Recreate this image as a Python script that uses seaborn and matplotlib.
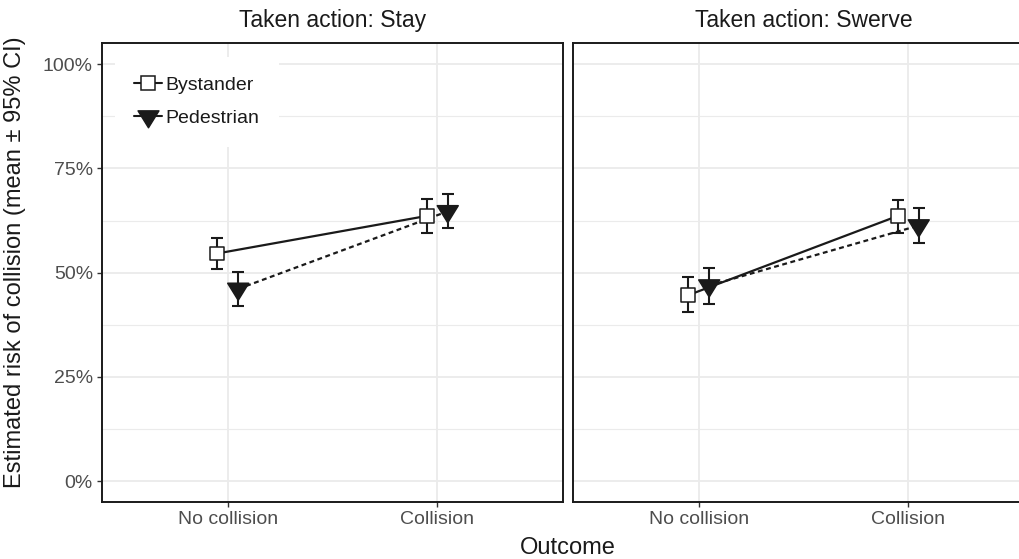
"""
Estimated collision risk by outcome, role and taken action (two facets).
"""
import numpy as np
import pandas as pd
import matplotlib
matplotlib.use("Agg")
import matplotlib.pyplot as plt
import seaborn as sns
from matplotlib.lines import Line2D
from matplotlib.path import Path

outcomes = ["No collision", "Collision"]
actions = ["Stay", "Swerve"]
roles = ["Bystander", "Pedestrian"]

# mean and 95% CI bounds, in percent
stay_bystander_mean = [54.6, 63.6]
stay_bystander_lo = [50.9, 59.4]
stay_bystander_hi = [58.2, 67.6]
stay_pedestrian_mean = [46.1, 64.7]
stay_pedestrian_lo = [42.0, 60.6]
stay_pedestrian_hi = [50.2, 68.9]
swerve_bystander_mean = [44.6, 63.6]
swerve_bystander_lo = [40.6, 59.4]
swerve_bystander_hi = [48.9, 67.5]
swerve_pedestrian_mean = [46.9, 61.3]
swerve_pedestrian_lo = [42.6, 57.1]
swerve_pedestrian_hi = [51.2, 65.5]

y_ticks = [0, 25, 50, 75, 100]
y_tick_labels = ["0%", "25%", "50%", "75%", "100%"]

series = {
    ("Stay", "Bystander"): (stay_bystander_mean, stay_bystander_lo, stay_bystander_hi),
    ("Stay", "Pedestrian"): (stay_pedestrian_mean, stay_pedestrian_lo, stay_pedestrian_hi),
    ("Swerve", "Bystander"): (swerve_bystander_mean, swerve_bystander_lo, swerve_bystander_hi),
    ("Swerve", "Pedestrian"): (swerve_pedestrian_mean, swerve_pedestrian_lo, swerve_pedestrian_hi),
}
dodge = {"Bystander": -0.05, "Pedestrian": 0.05}

rows = []
for (action, role), (means, los, his) in series.items():
    for i, outcome in enumerate(outcomes):
        rows.append({"action": action, "role": role, "outcome": outcome,
                     "x": i + dodge[role], "mean": means[i], "lo": los[i], "hi": his[i]})
df = pd.DataFrame(rows)

sns.set_theme(style="whitegrid")
plt.rcParams["font.family"] = ["Liberation Sans", "DejaVu Sans"]

INK = "#1a1a1a"
GRID = "#ebebeb"
TICK_TXT = "#4d4d4d"

# down triangle with its centroid on the data point (like ggplot shape 25)
tri = Path([(-1, 0.54), (1, 0.54), (0, -1.08), (-1, 0.54)],
           [Path.MOVETO, Path.LINETO, Path.LINETO, Path.CLOSEPOLY])
markers = {"Bystander": "s", "Pedestrian": tri}
fills = {"Bystander": "white", "Pedestrian": INK}
sizes = {"Bystander": 100, "Pedestrian": 266}

fig = plt.figure(figsize=(10.2, 5.59), dpi=100)
W, H = 1020, 559
bottom = 1 - 502 / H
height = 458.7 / H
ax1 = fig.add_axes([102 / W, bottom, 461 / W, height])
ax2 = fig.add_axes([573 / W, bottom, 461 / W, height])

for ax, action in zip([ax1, ax2], actions):
    sub = df[df["action"] == action]
    for role in roles:
        d = sub[sub["role"] == role]
        ax.errorbar(d["x"], d["mean"], yerr=[d["mean"] - d["lo"], d["hi"] - d["mean"]],
                    fmt="none", ecolor=INK, elinewidth=1.5, capsize=4, capthick=1.5, zorder=3)
    sns.lineplot(data=sub, x="x", y="mean", hue="role", style="role",
                 palette={r: INK for r in roles},
                 dashes={"Bystander": "", "Pedestrian": (2.2, 1.6)},
                 linewidth=1.6, legend=False, ax=ax, zorder=4)
    sns.scatterplot(data=sub, x="x", y="mean", hue="role", style="role", size="role",
                    palette=fills, markers=markers, sizes=sizes,
                    edgecolor=INK, linewidth=1.1, legend=False, ax=ax, zorder=5)

    ax.set_xlim(-0.6, 1.6)
    ax.set_ylim(-5, 105)
    ax.set_xticks(range(len(outcomes)))
    ax.set_xticklabels(outcomes)
    ax.set_yticks(y_ticks)
    ax.set_yticks([12.5, 37.5, 62.5, 87.5], minor=True)
    ax.grid(which="major", color=GRID, linewidth=1.3)
    ax.grid(which="minor", axis="y", color=GRID, linewidth=0.8)
    ax.set_facecolor("white")
    ax.set_xlabel("")
    ax.set_ylabel("")
    for sp in ax.spines.values():
        sp.set_visible(True)
        sp.set_color(INK)
        sp.set_linewidth(1.4)
    ax.tick_params(axis="both", which="major", length=3.5, width=1, color="#333333",
                   labelsize=14, labelcolor=TICK_TXT, pad=3, left=True, bottom=True)
    ax.tick_params(axis="both", which="minor", length=0)
    ax.set_title(f"Taken action: {action}", fontsize=16.5, color=INK, pad=12)

ax1.set_yticklabels(y_tick_labels)
ax2.tick_params(axis="y", which="major", left=False, labelleft=False)

handles = [
    Line2D([], [], color=INK, linestyle="-", linewidth=1.5, marker="s",
           markersize=10, markerfacecolor="white", markeredgecolor=INK, markeredgewidth=1.1),
    Line2D([], [], color=INK, linestyle="-", linewidth=1.5, marker=tri,
           markersize=16.3, markerfacecolor=INK, markeredgecolor=INK),
]
leg = ax1.legend(handles, roles, loc="upper left", bbox_to_anchor=(0.028, 0.970),
                 borderaxespad=0, fontsize=14, frameon=True, handlelength=1.4,
                 handletextpad=0.2, labelspacing=0.8, borderpad=1.0)
leg.get_frame().set_facecolor("white")
leg.get_frame().set_edgecolor("none")
leg.get_frame().set_alpha(1)
for t in leg.get_texts():
    t.set_color(INK)

fig.text(568 / W, 1 - 548 / H, "Outcome", ha="center", va="center", fontsize=17, color=INK)
fig.text(15 / W, 1 - 262 / H, "Estimated risk of collision (mean \u00b1 95% CI)",
         ha="center", va="center", rotation=90, fontsize=17, color=INK)

fig.savefig("out.png", dpi=100)
plt.close(fig)
